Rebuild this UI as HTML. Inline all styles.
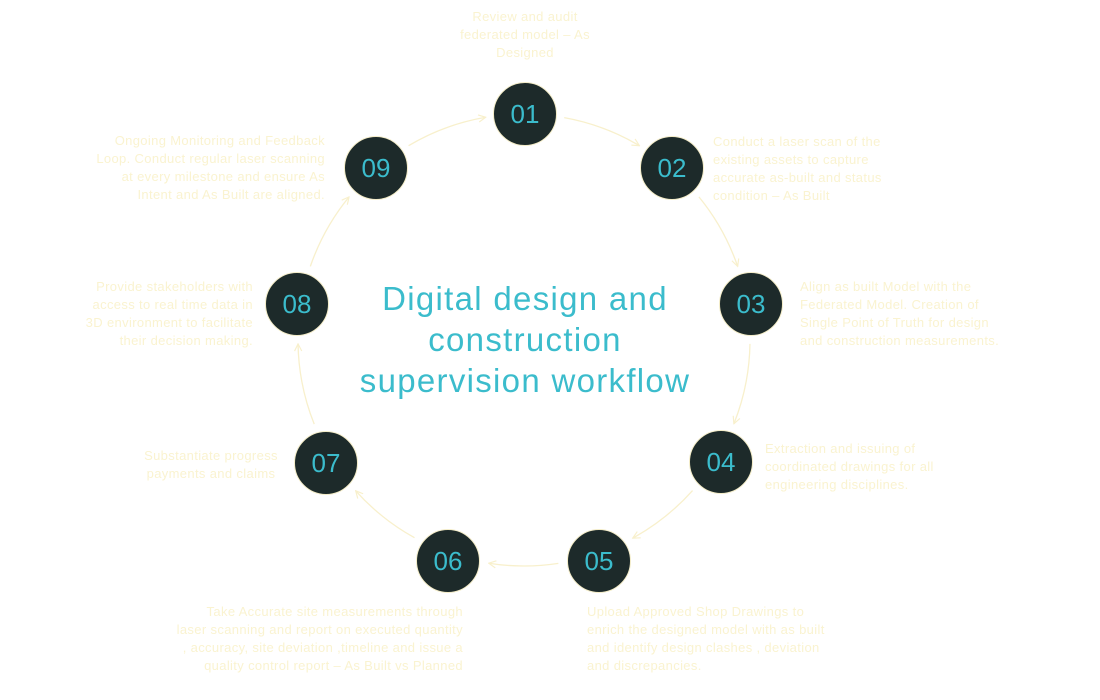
<!DOCTYPE html>
<html><head><meta charset="utf-8"><style>
html,body{margin:0;padding:0;background:#fff;width:1100px;height:700px;overflow:hidden}
body{position:relative;font-family:"Liberation Sans",sans-serif}
.t{position:absolute;color:#faf3d0;font-size:13px;letter-spacing:0.35px;line-height:18px;white-space:nowrap}
.r{text-align:right}.c{text-align:center}
.title{position:absolute;left:275px;width:500px;top:278px;text-align:center;color:#3bbccc;font-size:33px;letter-spacing:1.3px;line-height:41px}
svg{position:absolute;left:0;top:0}
</style></head><body>
<svg id="s" width="1100" height="700" viewBox="0 0 1100 700">
<defs><marker id="a" viewBox="0 0 10 10" refX="9" refY="5" markerWidth="9" markerHeight="9" markerUnits="userSpaceOnUse" orient="auto"><path d="M1,1 L9,5 L1,9" fill="none" stroke="#f8f0cc" stroke-width="1.3"/></marker></defs>
<g id="arcs"></g><g id="nodes"></g>
</svg>
<div class="title">Digital design and<br>construction<br>supervision workflow</div>
<div class="t c" style="left:425px;width:200px;top:8px">Review and audit<br>federated model – As<br>Designed</div>
<div class="t" style="left:713px;top:133px">Conduct a laser scan of the<br>existing assets  to capture<br>accurate as-built and status<br>condition – As Built</div>
<div class="t" style="left:800px;top:278px">Align as built Model with the<br>Federated Model. Creation of<br>Single Point of Truth for design<br>and construction measurements.</div>
<div class="t" style="left:765px;top:440px">Extraction and issuing of<br>coordinated drawings for all<br>engineering disciplines.</div>
<div class="t" style="left:587px;top:603px">Upload Approved Shop Drawings to<br>enrich the designed model with as built<br>and identify design clashes , deviation<br>and discrepancies.</div>
<div class="t r" style="right:637px;top:603px">Take Accurate site measurements through<br>laser scanning and report on executed quantity<br>, accuracy, site deviation ,timeline and issue a<br>quality control report – As Built vs Planned</div>
<div class="t c" style="left:111px;width:200px;top:447px">Substantiate progress<br>payments and claims</div>
<div class="t r" style="right:847px;top:278px">Provide stakeholders with<br>access to real time data in<br>3D environment to facilitate<br>their decision making.</div>
<div class="t r" style="right:775px;top:132px">Ongoing Monitoring and Feedback<br>Loop. Conduct regular laser scanning<br>at every milestone and ensure As<br>Intent and As Built are aligned.</div>
<script>
var N=[[525,114],[672,168],[751,304],[721,462],[599,561],[448,561],[326,463],[297,304],[376,168]];
var cx=524,cy=340,R=226,g=document.getElementById('arcs'),n=document.getElementById('nodes'),ns="http://www.w3.org/2000/svg";
function ang(p){return Math.atan2(p[1]-cy,p[0]-cx);}
for(var i=0;i<9;i++){
 var a1=ang(N[i]),a2=ang(N[(i+1)%9]);if(a2<a1)a2+=2*Math.PI;
 var d=10*Math.PI/180,s=a1+d,e=a2-d;
 var p=document.createElementNS(ns,'path');
 p.setAttribute('d','M'+(cx+R*Math.cos(s))+','+(cy+R*Math.sin(s))+' A'+R+','+R+' 0 0 1 '+(cx+R*Math.cos(e))+','+(cy+R*Math.sin(e)));
 p.setAttribute('fill','none');p.setAttribute('stroke','#f8f0cc');p.setAttribute('stroke-width','1.3');p.setAttribute('marker-end','url(#a)');
 g.appendChild(p);
 var c=document.createElementNS(ns,'circle');c.setAttribute('cx',N[i][0]);c.setAttribute('cy',N[i][1]);c.setAttribute('r',31.5);
 c.setAttribute('fill','#1d2a2a');c.setAttribute('stroke','#f3ecc8');c.setAttribute('stroke-width','1');n.appendChild(c);
 var t=document.createElementNS(ns,'text');t.setAttribute('x',N[i][0]);t.setAttribute('y',N[i][1]+9);t.setAttribute('text-anchor','middle');
 t.setAttribute('fill','#3bbccc');t.setAttribute('font-size','26');t.setAttribute('font-family','Liberation Sans, sans-serif');
 t.textContent='0'+(i+1);n.appendChild(t);
}
</script>
</body></html>
